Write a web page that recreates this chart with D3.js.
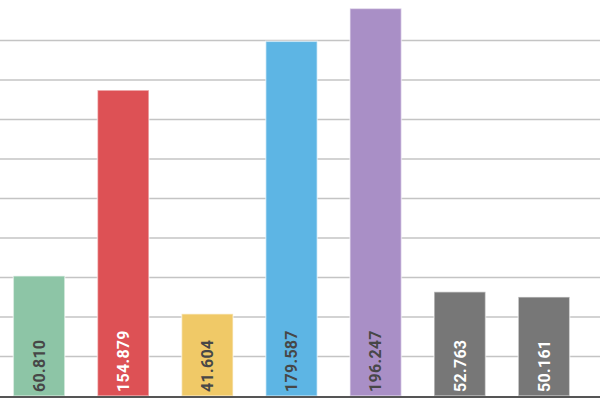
<!DOCTYPE html>
<html>
<head>
<meta charset="utf-8">
<script src="https://cdn.jsdelivr.net/npm/d3@7"></script>
<style>
  body { margin: 0; background: #fff; }
  .bar-label { font-family: Roboto, sans-serif; font-weight: bold; font-size: 16px; letter-spacing: 0.3px; }
</style>
</head>
<body>
<script>
var width = 600,
    height = 400;

// chart values
var categories = ['A', 'B', 'C', 'D', 'E', 'F', 'G'];
var values = [60.810, 154.879, 41.604, 179.587, 196.247, 52.763, 50.161];
var colors = ['#8dc5a6', '#dd5155', '#f0c967', '#5db5e4', '#a98fc6', '#777777', '#777777'];
var labelColors = ['#474747', '#ffffff', '#474747', '#474747', '#474747', '#ffffff', '#ffffff'];
var gridTicks = [20, 40, 60, 80, 100, 120, 140, 160, 180];

var dataset = categories.map(function(c, i) {
  return { key: c, value: values[i], color: colors[i], labelColor: labelColors[i] };
});

var svg = d3.select('body').append('svg')
    .attr('width', width)
    .attr('height', height);

var baseline = 396;

var xScale = d3.scaleBand()
    .domain(categories)
    .range([0, 583])
    .paddingInner(0.388)
    .paddingOuter(0.158);

var yScale = d3.scaleLinear()
    .domain([0, 200])
    .range([baseline, 1]);

// horizontal grid lines
svg.append('g')
    .attr('class', 'grid')
  .selectAll('line')
  .data(gridTicks)
  .enter().append('line')
    .attr('x1', 0)
    .attr('x2', width)
    .attr('y1', function(d) { return yScale(d); })
    .attr('y2', function(d) { return yScale(d); })
    .attr('stroke', '#c4c4c4')
    .attr('stroke-width', 1.6);

// bars
svg.selectAll('.bar')
  .data(dataset)
  .enter().append('rect')
    .attr('class', 'bar')
    .attr('x', function(d) { return xScale(d.key); })
    .attr('y', function(d) { return yScale(d.value); })
    .attr('width', xScale.bandwidth())
    .attr('height', function(d) { return baseline - yScale(d.value); })
    .attr('fill', function(d) { return d.color; })
    .attr('stroke', '#fff')
    .attr('stroke-opacity', 0.5)
    .attr('stroke-width', 1.5);

// baseline
svg.append('line')
    .attr('x1', 0)
    .attr('x2', width)
    .attr('y1', baseline + 1)
    .attr('y2', baseline + 1)
    .attr('stroke', '#555')
    .attr('stroke-width', 2);

// rotated value labels at the foot of each bar
svg.selectAll('.bar-label')
  .data(dataset)
  .enter().append('text')
    .attr('class', 'bar-label')
    .attr('transform', function(d) {
      return 'translate(' + (xScale(d.key) + xScale.bandwidth() / 2) + ',' + (baseline - 4) + ') rotate(-90)';
    })
    .attr('dy', '0.36em')
    .attr('text-anchor', 'start')
    .attr('fill', function(d) { return d.labelColor; })
    .text(function(d) { return d3.format('.3f')(d.value); });
</script>
</body>
</html>
